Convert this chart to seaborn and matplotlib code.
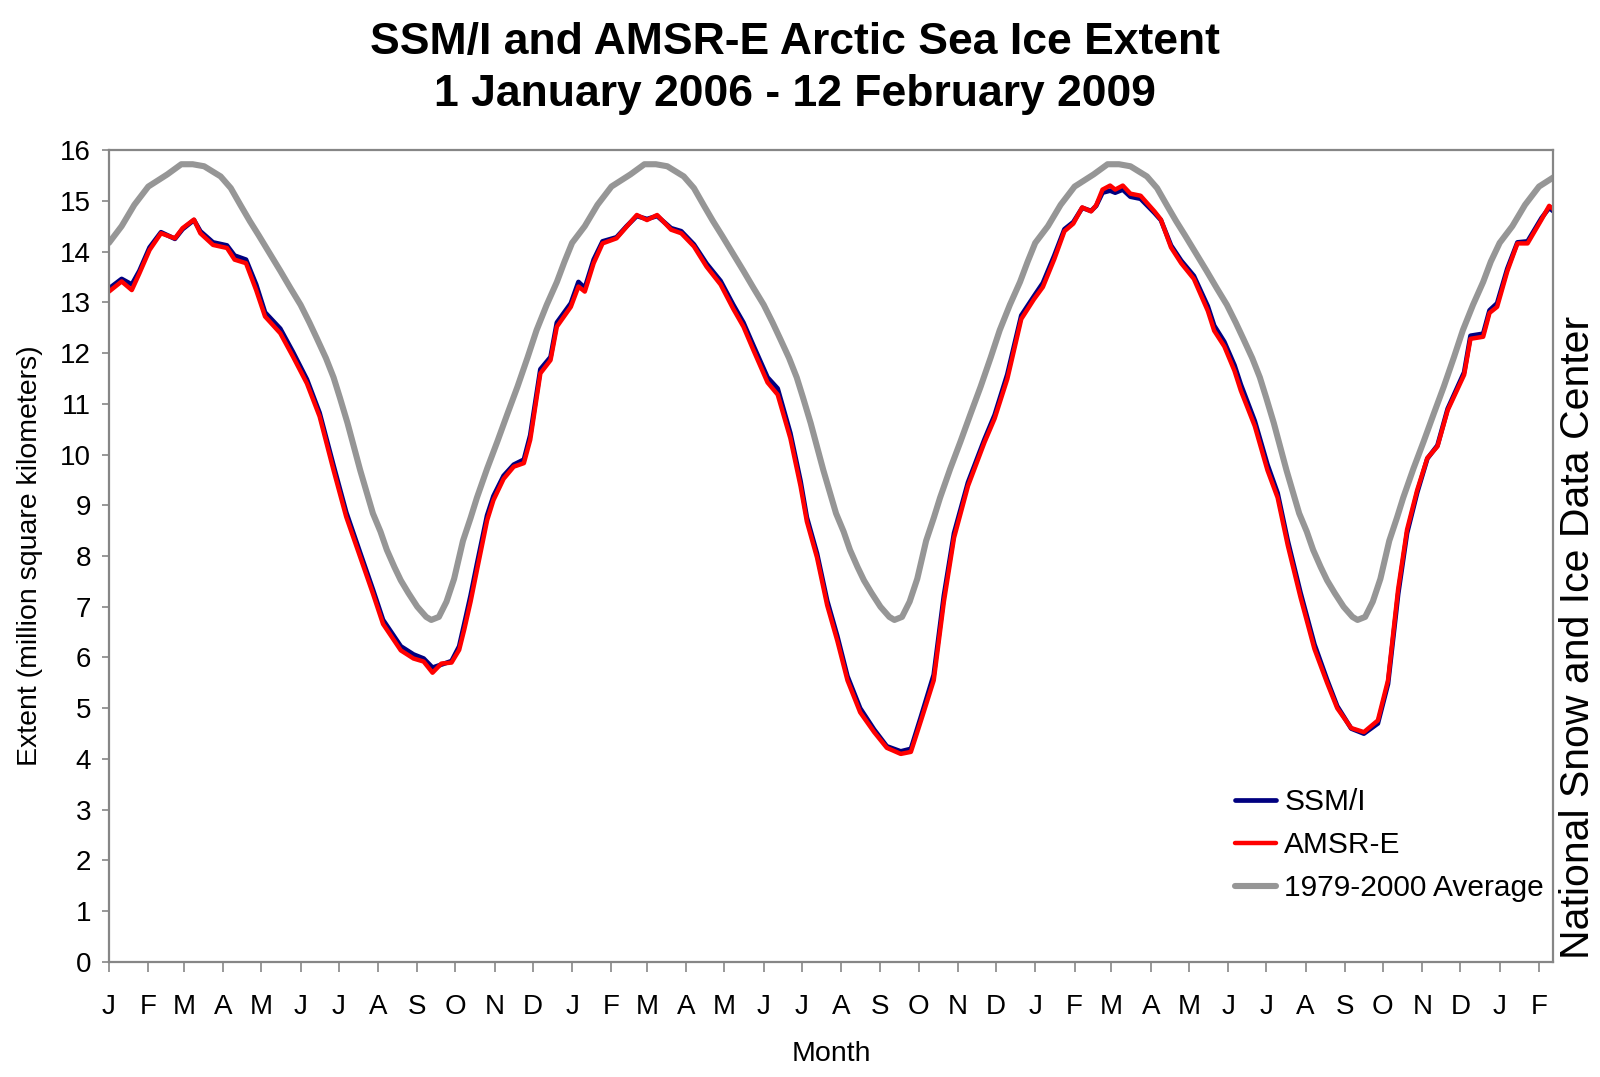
import numpy as np
import pandas as pd
import matplotlib
matplotlib.use("Agg")
import matplotlib.pyplot as plt
import seaborn as sns

# days since 1 January 2006
amsr_days = [0, 10, 18, 24, 32, 41, 52, 58, 67, 72, 82, 93, 99, 108, 116, 123, 135, 145, 156, 166,
             177, 187, 198, 208, 216, 230, 240, 248, 255, 262, 270, 276, 280, 285, 290, 298, 303, 311,
             319, 327, 332, 340, 348, 353, 364, 370, 375, 382, 389, 400, 408, 416, 424, 432, 443, 451,
             461, 471, 482, 492, 500, 508, 519, 527, 537, 545, 550, 558, 566, 574, 582, 592, 603, 613,
             624, 632, 640, 650, 658, 666, 677, 690, 698, 708, 719, 729, 736, 745, 753, 760, 767, 774,
             778, 783, 789, 793, 799, 805, 813, 824, 829, 837, 845, 855, 866, 871, 879, 887, 892, 903,
             913, 921, 929, 939, 950, 960, 968, 979, 989, 1000, 1008, 1016, 1023, 1031, 1039, 1047,
             1055, 1068, 1073, 1083, 1088, 1094, 1102, 1110, 1118, 1129, 1135, 1139]

amsr_vals = [13.21, 13.41, 13.24, 13.57, 14.03, 14.36, 14.26, 14.46, 14.63, 14.36, 14.13, 14.07, 13.84,
             13.77, 13.24, 12.72, 12.39, 11.93, 11.40, 10.75, 9.69, 8.77, 7.98, 7.26, 6.66, 6.14, 5.98,
             5.92, 5.70, 5.88, 5.90, 6.15, 6.55, 7.10, 7.72, 8.70, 9.10, 9.52, 9.76, 9.83, 10.29, 11.60,
             11.86, 12.52, 12.91, 13.31, 13.21, 13.77, 14.16, 14.26, 14.49, 14.72, 14.62, 14.72, 14.43,
             14.36, 14.10, 13.70, 13.35, 12.87, 12.52, 12.05, 11.42, 11.18, 10.32, 9.38, 8.68, 7.97,
             7.03, 6.33, 5.55, 4.92, 4.53, 4.22, 4.10, 4.14, 4.76, 5.55, 7.10, 8.36, 9.38, 10.24, 10.71,
             11.49, 12.67, 13.06, 13.30, 13.85, 14.40, 14.55, 14.87, 14.79, 14.91, 15.22, 15.30, 15.22,
             15.30, 15.14, 15.10, 14.79, 14.63, 14.08, 13.77, 13.46, 12.83, 12.44, 12.13, 11.65, 11.26,
             10.56, 9.69, 9.15, 8.21, 7.19, 6.17, 5.50, 5.00, 4.61, 4.53, 4.76, 5.55, 7.35, 8.52, 9.30,
             9.93, 10.16, 10.87, 11.57, 12.28, 12.32, 12.79, 12.91, 13.61, 14.16, 14.16, 14.63, 14.90,
             14.82]

ssmi_days = amsr_days
ssmi_vals = [13.27, 13.46, 13.35, 13.62, 14.08, 14.38, 14.25, 14.44, 14.62, 14.40, 14.18, 14.12, 13.92,
             13.84, 13.35, 12.80, 12.48, 12.02, 11.48, 10.82, 9.78, 8.86, 8.06, 7.34, 6.74, 6.22, 6.06,
             5.98, 5.80, 5.86, 5.93, 6.22, 6.66, 7.22, 7.84, 8.80, 9.18, 9.58, 9.80, 9.90, 10.38, 11.68,
             11.92, 12.60, 12.98, 13.40, 13.28, 13.84, 14.20, 14.28, 14.50, 14.70, 14.64, 14.70, 14.46,
             14.40, 14.14, 13.76, 13.42, 12.95, 12.60, 12.14, 11.52, 11.30, 10.42, 9.48, 8.76, 8.05,
             7.12, 6.42, 5.63, 5.00, 4.58, 4.25, 4.15, 4.20, 4.84, 5.66, 7.22, 8.45, 9.45, 10.30, 10.78,
             11.58, 12.74, 13.12, 13.38, 13.92, 14.44, 14.58, 14.86, 14.80, 14.90, 15.16, 15.20, 15.16,
             15.22, 15.08, 15.04, 14.76, 14.62, 14.12, 13.82, 13.52, 12.92, 12.54, 12.22, 11.76, 11.38,
             10.66, 9.80, 9.24, 8.30, 7.28, 6.26, 5.56, 5.04, 4.60, 4.50, 4.70, 5.48, 7.25, 8.45, 9.25,
             9.92, 10.18, 10.90, 11.62, 12.34, 12.38, 12.84, 12.98, 13.66, 14.18, 14.20, 14.66, 14.86,
             14.78]

# 1979-2000 average by day of year (same for every year)
avg_doy = [0, 10, 20, 31, 46, 57, 66, 75, 88, 96, 104, 111, 118, 127, 135, 143, 151, 158, 164, 171,
           177, 182, 188, 198, 208, 214, 219, 225, 230, 236, 243, 250, 254, 260, 266, 272, 279, 285,
           290, 298, 306, 314, 322, 330, 337, 345, 353, 359]
avg_vals = [14.17, 14.50, 14.92, 15.28, 15.52, 15.72, 15.72, 15.68, 15.48, 15.25, 14.90, 14.60, 14.32,
            13.95, 13.62, 13.28, 12.95, 12.60, 12.28, 11.90, 11.52, 11.12, 10.62, 9.69, 8.84, 8.48,
            8.12, 7.78, 7.52, 7.27, 7.00, 6.80, 6.74, 6.80, 7.10, 7.55, 8.30, 8.75, 9.15, 9.72, 10.25,
            10.80, 11.34, 11.92, 12.45, 12.95, 13.40, 13.80]

start = pd.Timestamp("2006-01-01")
end_day = (pd.Timestamp("2009-02-12") - start).days
year_starts = [(pd.Timestamp(f"{y}-01-01") - start).days for y in [2006, 2007, 2008, 2009]]

avg_days, avg_all = [], []
for ys in year_starts:
    for d, v in zip(avg_doy, avg_vals):
        if ys + d <= end_day + 10:
            avg_days.append(ys + d)
            avg_all.append(v)

ssmi = pd.DataFrame({"day": ssmi_days, "extent": ssmi_vals})
amsr = pd.DataFrame({"day": amsr_days, "extent": amsr_vals})
avg = pd.DataFrame({"day": avg_days, "extent": avg_all})

months = pd.date_range("2006-01-01", "2009-02-01", freq="MS")
month_pos = [(m - start).days for m in months]
month_lab = [m.strftime("%b")[0] for m in months]

sns.set_style("white")
plt.rcParams["font.family"] = ["Liberation Sans", "DejaVu Sans"]
plt.rcParams["text.color"] = "black"
plt.rcParams["axes.labelcolor"] = "black"

fig = plt.figure(figsize=(16, 10.77), dpi=100)
ax = fig.add_axes([0.0681, 0.1068, 0.9025, 0.7539])

sns.lineplot(data=ssmi, x="day", y="extent", ax=ax, color="#000080", linewidth=3.4,
             label="SSM/I", solid_joinstyle="round")
sns.lineplot(data=amsr, x="day", y="extent", ax=ax, color="#FF0000", linewidth=3.2,
             label="AMSR-E", solid_joinstyle="round")
sns.lineplot(data=avg, x="day", y="extent", ax=ax, color="#969696", linewidth=4.4,
             label="1979-2000 Average", solid_joinstyle="round")

ax.set_xlim(0, end_day)
ax.set_ylim(0, 16)
ax.set_yticks(range(0, 17))
ax.set_xticks(month_pos)
ax.set_xticklabels(month_lab)

for s in ax.spines.values():
    s.set_visible(True)
    s.set_color("#868686")
    s.set_linewidth(1.6)

ax.tick_params(axis="y", direction="out", length=5, width=1.2, color="#868686",
               labelcolor="black", labelsize=20, pad=8, left=True)
ax.tick_params(axis="x", direction="out", length=7, width=1.2, color="#868686",
               labelcolor="black", labelsize=20, pad=16, bottom=True)

ax.set_xlabel("Month", fontsize=20.5, labelpad=15)
ax.set_ylabel("Extent (million square kilometers)", fontsize=20.5, labelpad=12)

leg = ax.legend(loc="upper left", bbox_to_anchor=(0.772, 0.268), bbox_transform=fig.transFigure,
                frameon=False, fontsize=21.5, handlelength=1.37, handletextpad=0.27,
                labelspacing=0.5, borderpad=0, borderaxespad=0)
for line in leg.get_lines():
    line.set_solid_capstyle("round")

fig.text(0.497, 0.961, "SSM/I and AMSR-E Arctic Sea Ice Extent", ha="center", va="center",
         fontsize=32, fontweight="bold")
fig.text(0.497, 0.912, "1 January 2006 - 12 February 2009", ha="center", va="center",
         fontsize=32, fontweight="bold")
fig.text(0.986, 0.408, "National Snow and Ice Data Center", rotation=90, ha="center",
         va="center", fontsize=29.5)

fig.savefig("out.png", dpi=100)
